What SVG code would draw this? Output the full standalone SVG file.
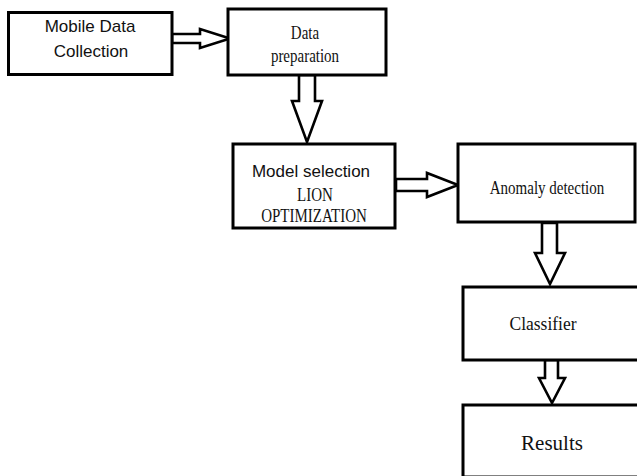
<svg xmlns="http://www.w3.org/2000/svg" width="637" height="476" viewBox="0 0 637 476">
<style>
.box{fill:#fff;stroke:#000;stroke-width:3}
.arr{fill:#fff;stroke:#000;stroke-width:2.6;stroke-linejoin:miter}
.sans{font-family:"Liberation Sans",Arial,sans-serif;font-size:17px;fill:#111;text-anchor:middle}
.serif{font-family:"Liberation Serif","Times New Roman",serif;font-size:15px;fill:#111;text-anchor:middle}
</style>
<rect width="637" height="476" fill="#fff"/>
<g id="connectors">
<polygon class="arr" points="172,34 200,34 200,29 230,38.5 200,48 200,43 172,43"/>
<polygon class="arr" points="299,75 315,75 315,101 322,101 307,142 292,101 299,101"/>
<polygon class="arr" points="396,179 427,179 427,173 458,185 427,197 427,191 396,191"/>
<polygon class="arr" points="542,223 557,223 557,253 565,253 550,284 535,253 542,253"/>
<polygon class="arr" points="545,360 558,360 558,378 565,378 552,403 539,378 545,378"/>
</g>
<g id="mobile-data-collection">
<rect class="box" x="8.5" y="12.5" width="163.5" height="62"/>
<text class="sans" x="90" y="32">Mobile Data</text>
<text class="sans" x="91" y="57">Collection</text>
</g>
<g id="data-preparation">
<rect class="box" x="228" y="9" width="158" height="66"/>
<text class="serif" transform="translate(305,39) scale(1,1.2)">Data</text>
<text class="serif" transform="translate(305,62) scale(1,1.2)">preparation</text>
</g>
<g id="model-selection">
<rect class="box" x="233" y="144" width="162" height="84"/>
<text class="sans" x="311" y="177">Model selection</text>
<text class="serif" transform="translate(315,201) scale(1,1.2)">LION</text>
<text class="serif" transform="translate(314,222) scale(1,1.2)">OPTIMIZATION</text>
</g>
<g id="anomaly-detection">
<rect class="box" x="458" y="144" width="177" height="78"/>
<text class="serif" transform="translate(547,194) scale(1,1.2)">Anomaly detection</text>
</g>
<g id="classifier">
<rect class="box" x="463" y="287" width="180" height="73"/>
<text class="serif" transform="translate(543,330) scale(1,1.1)" style="font-size:17.5px">Classifier</text>
</g>
<g id="results">
<rect class="box" x="463" y="405" width="180" height="72"/>
<text class="serif" x="552" y="450" style="font-size:21px">Results</text>
</g>
</svg>
